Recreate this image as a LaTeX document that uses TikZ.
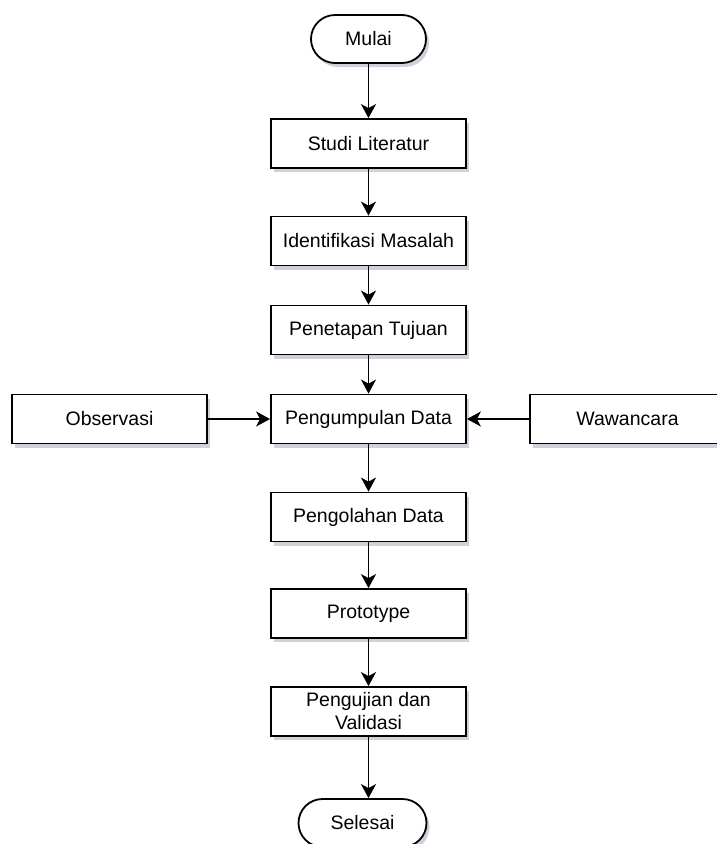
\documentclass[tikz,border=0pt]{standalone}
\usepackage{fontspec}
\setmainfont{Liberation Sans}
\usetikzlibrary{arrows.meta, shadows, math}
\definecolor{myshadow}{RGB}{150,150,175}

\begin{document}
\begin{tikzpicture}[x=1pt,y=-1pt,
  box/.style={draw, line width=1.8pt, fill=white, minimum width=195pt, minimum height=49pt, inner sep=0pt,
    font=\fontsize{19.5}{23}\selectfont,
    drop shadow={shadow xshift=3pt, shadow yshift=-4pt, fill=myshadow, opacity=0.45}},
  term/.style={box, rounded corners=24pt, minimum width=115pt, minimum height=48pt},
  arr/.style={-{Stealth[length=14pt,width=15pt,inset=4pt]}, line width=1.8pt}]
\tikzmath{
\cx=368.5;
}

\useasboundingbox (0,0) rectangle (716,844);

\node[term] (mulai) at (\cx,39) {Mulai};
\node[box] (studi) at (\cx,143.5) {Studi Literatur};
\node[box] (ident) at (\cx,241) {Identifikasi Masalah};
\node[box] (tujuan) at (\cx,330) {Penetapan Tujuan};
\node[box] (kumpul) at (\cx,419) {Pengumpulan Data};
\node[box] (obs) at (109.5,419) {Observasi};
\node[box] (wawan) at (627.5,419) {Wawancara};
\node[box] (olah) at (\cx,517) {Pengolahan Data};
\node[box] (proto) at (\cx,613.5) {Prototype};
\node[box, align=center] (uji) at (\cx,711.5) {Pengujian dan\\Validasi};
\node[term, minimum width=128pt] (selesai) at (\cx-6,823) {Selesai};

\draw[arr] (mulai) -- (studi);
\draw[arr] (studi) -- (ident);
\draw[arr] (ident) -- (tujuan);
\draw[arr] (tujuan) -- (kumpul);
\draw[arr] (obs) -- (kumpul);
\draw[arr] (wawan) -- (kumpul);
\draw[arr] (kumpul) -- (olah);
\draw[arr] (olah) -- (proto);
\draw[arr] (proto) -- (uji);
\draw[arr] (uji.south) -- (uji.south |- selesai.north);

\end{tikzpicture}
\end{document}
